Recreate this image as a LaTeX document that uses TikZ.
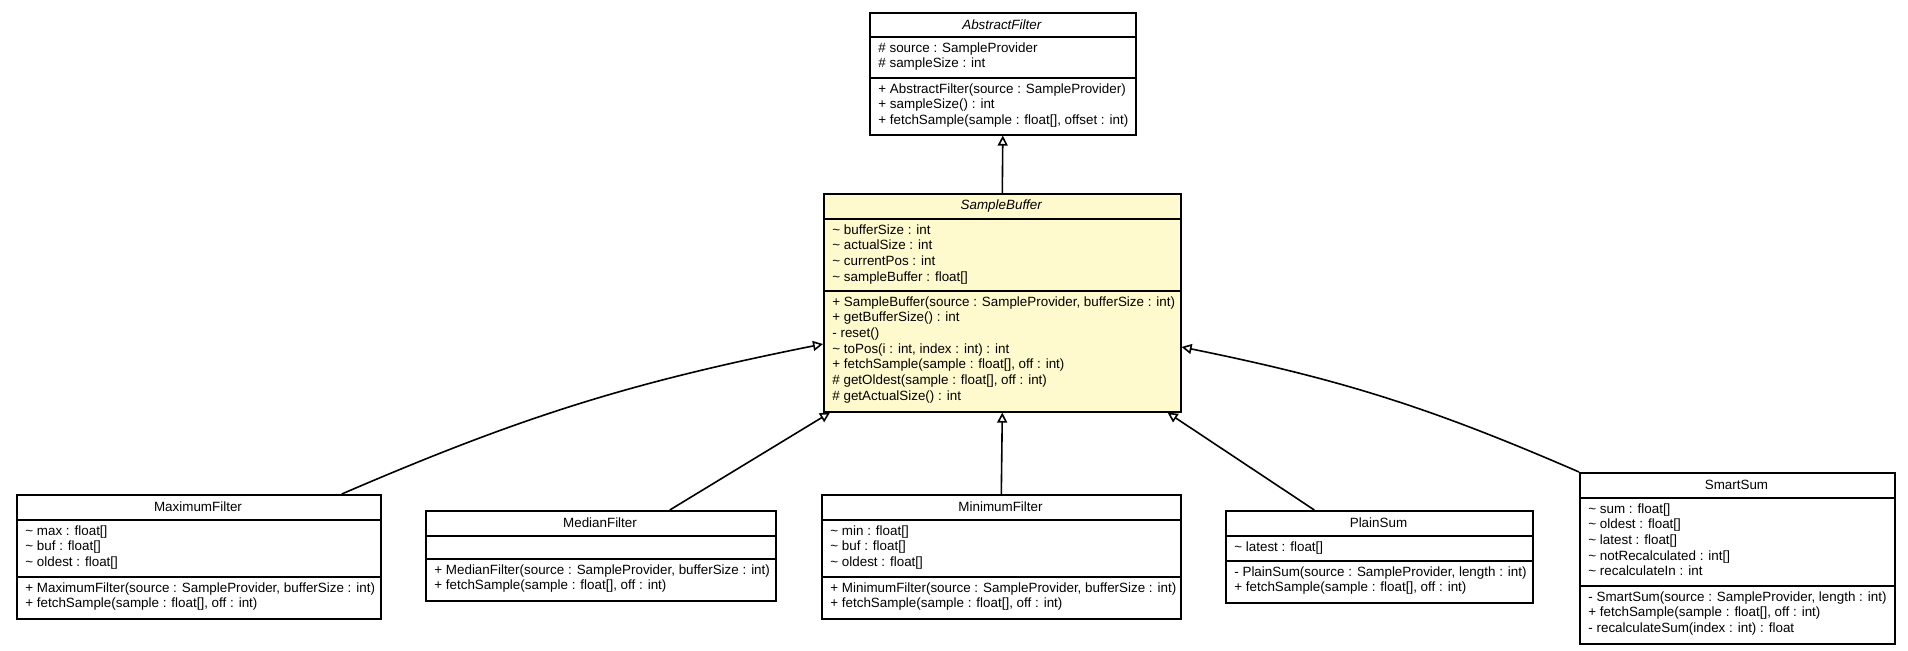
\documentclass[tikz,border=0pt]{standalone}
\usepackage{fontspec}
\setmainfont{Liberation Sans}
\usetikzlibrary{arrows.meta,positioning,calc}

\definecolor{noteyellow}{RGB}{255,250,205}

\tikzset{
  umlbox/.style={draw, thick, anchor=north west, inner sep=0pt},
  umltext/.style={anchor=north west, inner sep=0pt, align=left,
    font=\fontsize{6.7}{7.85}\selectfont},
  umltitle/.style={inner sep=0pt, font=\fontsize{6.7}{7.85}\selectfont},
  extends/.style={-{Triangle[open,length=5pt,width=5pt]}, thick}
}

% box: name, x, y, width, height, divider1, divider2, title, fill
\newcommand{\umlclass}[9]{%
  \node[umlbox, fill=#9, minimum width=#4*0.5pt, minimum height=#5*0.5pt] (#1) at (#2,#3) {};
  \draw[thick] (#2,#6) -- ++(#4,0);
  \draw[thick] (#2,#7) -- ++(#4,0);
  \node[umltitle] (#1-title) at ($(#2,#3)!0.5!(#2+#4,#6)$) {#8};
  \coordinate (#1-a) at (#2+9,#6+5);
  \coordinate (#1-o) at (#2+9,#7+5);
}

\begin{document}
\begin{tikzpicture}[x=0.5pt, y=-0.5pt]
    \useasboundingbox (0,0) rectangle (1908,651);

    % --- parent classes ---
    \umlclass{abstract}{869}{12}{266}{122}{37}{78}{\textit{AbstractFilter}}{white}
    \node[umltext] (abstract-attr) at (abstract-a) {\# source : SampleProvider\\\# sampleSize : int};
    \node[umltext] (abstract-ops) at (abstract-o) {+ AbstractFilter(source : SampleProvider)\\+ sampleSize() : int\\+ fetchSample(sample : float[], offset : int)};

    \umlclass{buffer}{823}{193}{357}{218}{219}{291}{\textit{SampleBuffer}}{noteyellow}
    \node[umltext] (buffer-attr) at (buffer-a) {\textasciitilde{} bufferSize : int\\\textasciitilde{} actualSize : int\\\textasciitilde{} currentPos : int\\\textasciitilde{} sampleBuffer : float[]};
    \node[umltext] (buffer-ops) at (buffer-o) {+ SampleBuffer(source : SampleProvider, bufferSize : int)\\+ getBufferSize() : int\\- reset()\\\textasciitilde{} toPos(i : int, index : int) : int\\+ fetchSample(sample : float[], off : int)\\\# getOldest(sample : float[], off : int)\\\# getActualSize() : int};

    % --- subclasses ---
    \umlclass{maximum}{16}{494}{364}{124}{520}{577}{MaximumFilter}{white}
    \node[umltext] (maximum-attr) at (maximum-a) {\textasciitilde{} max : float[]\\\textasciitilde{} buf : float[]\\\textasciitilde{} oldest : float[]};
    \node[umltext] (maximum-ops) at (maximum-o) {+ MaximumFilter(source : SampleProvider, bufferSize : int)\\+ fetchSample(sample : float[], off : int)};

    \umlclass{median}{425}{510}{350}{90}{536}{559}{MedianFilter}{white}
    \node[umltext] (median-ops) at (median-o) {+ MedianFilter(source : SampleProvider, bufferSize : int)\\+ fetchSample(sample : float[], off : int)};

    \umlclass{minimum}{821}{494}{359}{124}{520}{577}{MinimumFilter}{white}
    \node[umltext] (minimum-attr) at (minimum-a) {\textasciitilde{} min : float[]\\\textasciitilde{} buf : float[]\\\textasciitilde{} oldest : float[]};
    \node[umltext] (minimum-ops) at (minimum-o) {+ MinimumFilter(source : SampleProvider, bufferSize : int)\\+ fetchSample(sample : float[], off : int)};

    \umlclass{plain}{1225}{510}{307}{92}{536}{561}{PlainSum}{white}
    \node[umltext] (plain-attr) at (plain-a) {\textasciitilde{} latest : float[]};
    \node[umltext] (plain-ops) at (plain-o) {- PlainSum(source : SampleProvider, length : int)\\+ fetchSample(sample : float[], off : int)};

    \umlclass{smart}{1579}{472}{315}{171}{498}{586}{SmartSum}{white}
    \node[umltext] (smart-attr) at (smart-a) {\textasciitilde{} sum : float[]\\\textasciitilde{} oldest : float[]\\\textasciitilde{} latest : float[]\\\textasciitilde{} notRecalculated : int[]\\\textasciitilde{} recalculateIn : int};
    \node[umltext] (smart-ops) at (smart-o) {- SmartSum(source : SampleProvider, length : int)\\+ fetchSample(sample : float[], off : int)\\- recalculateSum(index : int) : float};

    % --- generalizations ---
    \draw[extends] (buffer.north) -- (abstract.south);
    \draw[extends] (minimum.north) -- (buffer.south);
    \draw[extends] ($(maximum.north)+(143,0)$) to[bend left=6] ($(buffer.north west)+(0,151)$);
    \draw[extends] ($(median.north)+(69,0)$) -- ($(buffer.south west)+(7,0)$);
    \draw[extends] ($(plain.north)-(65,0)$) -- ($(buffer.south east)-(14,0)$);
    \draw[extends] (smart.north west) to[bend right=6] ($(buffer.north east)+(0,154)$);
\end{tikzpicture}
\end{document}
